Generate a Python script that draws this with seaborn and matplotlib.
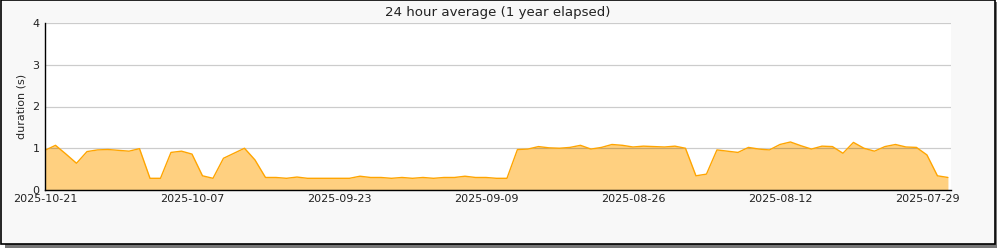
import numpy as np
import pandas as pd
import matplotlib
matplotlib.use("Agg")
import matplotlib.pyplot as plt
import matplotlib.dates as mdates
from matplotlib.patches import Rectangle
import seaborn as sns

start_date = "2025-10-21"
durations = [
    0.95, 1.07, 0.86, 0.64, 0.92, 0.96, 0.97, 0.95, 0.93, 0.99,
    0.28, 0.28, 0.90, 0.93, 0.86, 0.34, 0.28, 0.76, 0.88, 1.00,
    0.72, 0.30, 0.30, 0.28, 0.31, 0.28, 0.28, 0.28, 0.28, 0.28,
    0.33, 0.30, 0.30, 0.28, 0.30, 0.28, 0.30, 0.28, 0.30, 0.30,
    0.33, 0.30, 0.30, 0.28, 0.28, 0.97, 0.98, 1.04, 1.01, 1.00,
    1.02, 1.07, 0.98, 1.02, 1.09, 1.07, 1.03, 1.05, 1.04, 1.03,
    1.05, 1.00, 0.34, 0.38, 0.96, 0.93, 0.90, 1.02, 0.98, 0.96,
    1.09, 1.15, 1.06, 0.98, 1.05, 1.04, 0.88, 1.14, 1.00, 0.93,
    1.04, 1.09, 1.03, 1.02, 0.84, 0.34, 0.30,
]
dates = pd.date_range(end=start_date, periods=len(durations), freq="D")[::-1]
title = "24 hour average (1 year elapsed)"
ylabel = "duration (s)"

df = pd.DataFrame({"date": dates, "duration": durations})

sns.set_style("white")
plt.rcParams["font.family"] = ["DejaVu Sans"]

fig = plt.figure(figsize=(10, 2.5), dpi=100)
fig.patch.set_facecolor("white")
# frame with shadow
fig.patches.append(Rectangle((0.005, 0.008), 0.992, 0.985, transform=fig.transFigure,
                             facecolor="#777777", edgecolor="none", zorder=-3))
fig.patches.append(Rectangle((0.0005, 0.024), 0.994, 0.975, transform=fig.transFigure,
                             facecolor="#f8f8f8", edgecolor="black", linewidth=1.2, zorder=-2))

ax = fig.add_axes([0.045, 0.24, 0.906, 0.668])
ax.set_facecolor("white")

ax.fill_between(df["date"], 0, df["duration"], color="#FFD080", linewidth=0, zorder=1)
sns.lineplot(data=df, x="date", y="duration", ax=ax, color="#FFA500", linewidth=1.0, zorder=2)

ax.set_ylim(0, 4)
ax.set_xlim(pd.Timestamp("2025-10-21"), pd.Timestamp("2025-07-27") - pd.Timedelta(hours=7))
ax.set_yticks([0, 1, 2, 3, 4])
ax.set_yticks([0.5, 1.5, 2.5, 3.5], minor=True)

tick_dates = pd.date_range(end="2025-10-21", periods=13, freq="7D")
label_dates = [d for d in tick_dates if (pd.Timestamp("2025-10-21") - d).days % 14 == 0]
ax.set_xticks(tick_dates, minor=True)
ax.set_xticks(label_dates)
ax.set_xticklabels([d.strftime("%Y-%m-%d") for d in label_dates])

ax.set_axisbelow("line")
ax.yaxis.grid(True, color="black", alpha=0.2, linewidth=0.9)
ax.xaxis.grid(False)

for s in ["top", "right"]:
    ax.spines[s].set_visible(False)
for s in ["left", "bottom"]:
    ax.spines[s].set_color("black")
    ax.spines[s].set_linewidth(1.0)

ax.tick_params(axis="both", which="both", direction="in", length=5, width=1,
               color="black", labelsize=8, labelcolor="#222222")
ax.tick_params(axis="x", pad=3)
ax.tick_params(axis="y", pad=4)

ax.set_xlabel("")
ax.set_ylabel(ylabel, fontsize=8, labelpad=4)
ax.set_title(title, fontsize=9.6, pad=5, color="#222222")

fig.savefig("out.png", dpi=100, facecolor=fig.get_facecolor())
